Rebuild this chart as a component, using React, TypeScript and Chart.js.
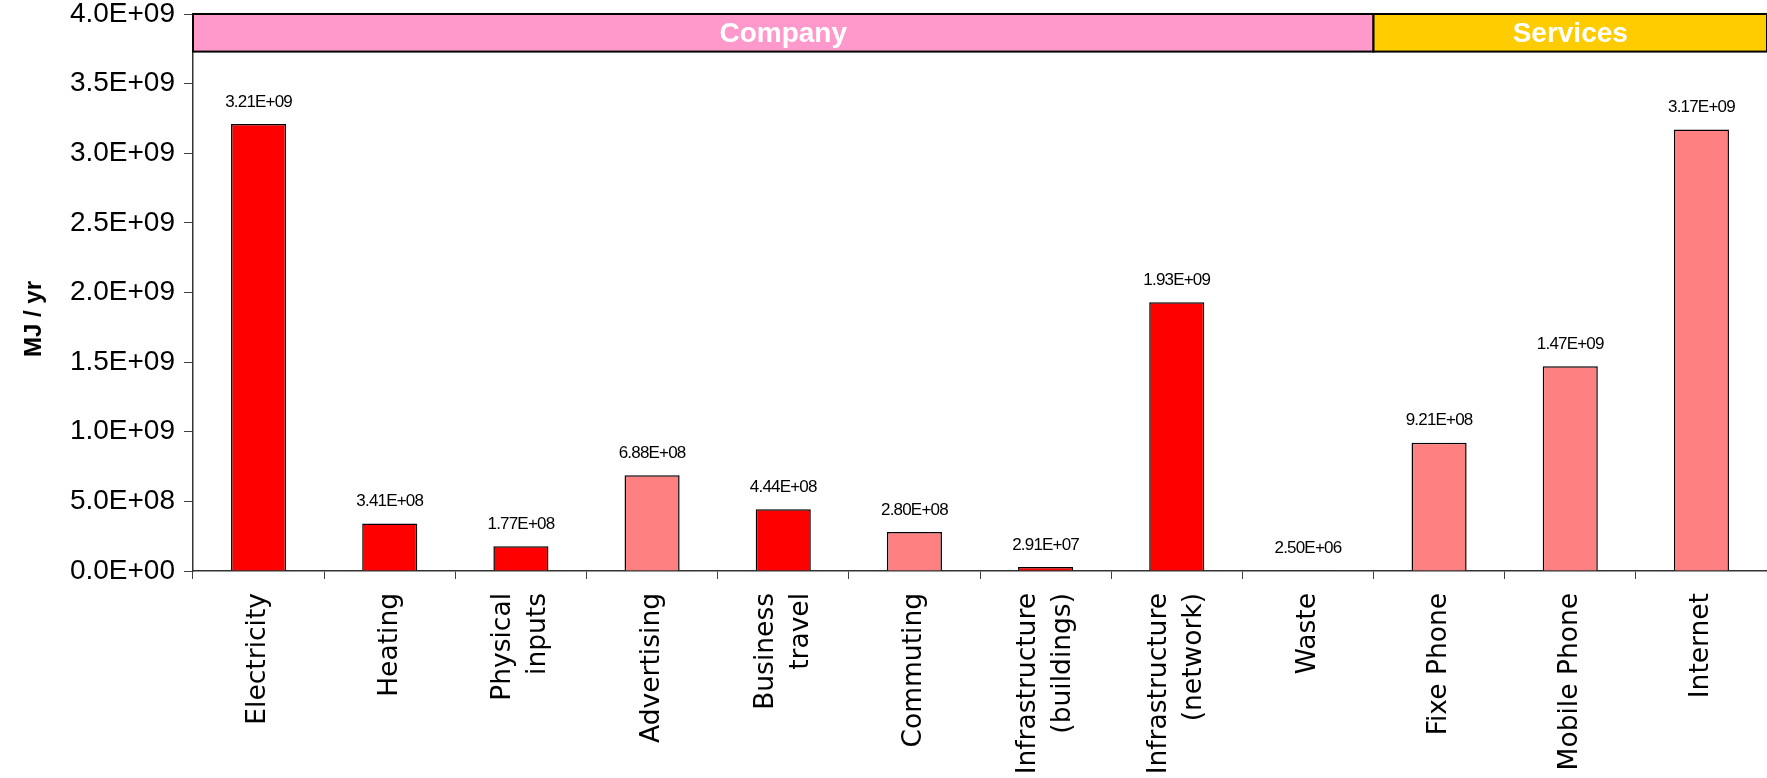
import { useEffect, useRef } from "react";
import { Chart, registerables } from "chart.js";

Chart.register(...registerables);

// ---- data ----
const categories: string[][] = [
  ["Electricity"],
  ["Heating"],
  ["Physical", "inputs"],
  ["Advertising"],
  ["Business", "travel"],
  ["Commuting"],
  ["Infrastructure", "(buildings)"],
  ["Infrastructure", "(network)"],
  ["Waste"],
  ["Fixe Phone"],
  ["Mobile Phone"],
  ["Internet"],
];

const values: number[] = [
  3.21e9, 3.41e8, 1.77e8, 6.88e8, 4.44e8, 2.8e8, 2.91e7, 1.93e9, 2.5e6, 9.21e8,
  1.47e9, 3.17e9,
];

const RED = "#FF0000";
const LIGHT = "#FF8080";
const barColors: string[] = [
  RED, RED, RED, LIGHT, RED, LIGHT, RED, RED, RED, LIGHT, LIGHT, LIGHT,
];

const groupNames: string[] = ["Company", "Services"];
const groupStart: number[] = [0, 9];
const groupEnd: number[] = [8, 11];
const groupColors: string[] = ["#FF99CC", "#FFCC00"];
const bandTop = 4.0e9;
const bandBottom = 3.73e9;

const yMin = 0;
const yMax = 4.0e9;
const yStep = 5.0e8;
const yTitle = "MJ / yr";

function fmtExp(v: number, d: number): string {
  const s = Number(v).toExponential(d);
  const [m, e] = s.split("e");
  const sign = e[0] === "-" ? "-" : "+";
  const n = Math.abs(parseInt(e, 10));
  return `${m}E${sign}${String(n).padStart(2, "0")}`;
}

// centre multi-line rotated category labels on their tick
const xLabelShiftPlugin = {
  id: "xLabelShift",
  beforeDraw(chart: any) {
    const xs = chart.scales.x;
    if (!xs || !xs.getLabelItems) return;
    const items = xs.getLabelItems(chart.chartArea);
    items.forEach((it: any) => {
      if (it._shifted) return;
      const n = Array.isArray(it.label) ? it.label.length : 1;
      if (n > 1 && it.options && it.options.translation) {
        it.options.translation[0] -= ((n - 1) * it.font.lineHeight) / 2;
      }
      it._shifted = true;
    });
  },
};

const overlayPlugin = {
  id: "overlay",
  afterDatasetsDraw(chart: any) {
    const { ctx, chartArea } = chart;
    const x = chart.scales.x;
    const y = chart.scales.y;
    ctx.save();

    // data labels
    ctx.font = '17px "Liberation Sans", Arial, sans-serif';
    try {
      (ctx as any).letterSpacing = "-0.8px";
    } catch (e) {}
    ctx.fillStyle = "#000";
    ctx.textAlign = "center";
    ctx.textBaseline = "middle";
    values.forEach((v, i) => {
      ctx.fillText(fmtExp(v, 2), x.getPixelForValue(i), y.getPixelForValue(v) - 22);
    });
    try {
      (ctx as any).letterSpacing = "0px";
    } catch (e) {}

    // group bands
    const half = (x.getPixelForValue(1) - x.getPixelForValue(0)) / 2;
    const top = y.getPixelForValue(bandTop);
    const bot = y.getPixelForValue(bandBottom);
    groupNames.forEach((name, g) => {
      const left = Math.max(chartArea.left, x.getPixelForValue(groupStart[g]) - half);
      const right = x.getPixelForValue(groupEnd[g]) + half;
      ctx.fillStyle = groupColors[g];
      ctx.fillRect(left, top, right - left, bot - top);
      ctx.strokeStyle = "#000";
      ctx.lineWidth = 2;
      ctx.strokeRect(left, top, right - left, bot - top);
      ctx.fillStyle = "#FFFFFF";
      ctx.font = 'bold 28px "Liberation Sans", Arial, sans-serif';
      ctx.textAlign = "center";
      ctx.textBaseline = "middle";
      const cx = (left + Math.min(right, chart.width)) / 2;
      ctx.fillText(name, cx, (top + bot) / 2 + 1);
    });

    // y axis title
    ctx.translate(34, 319);
    ctx.rotate(-Math.PI / 2);
    ctx.fillStyle = "#000";
    ctx.font = 'bold 24px "Liberation Sans", Arial, sans-serif';
    ctx.textAlign = "center";
    ctx.textBaseline = "middle";
    ctx.fillText(yTitle, 0, 0);

    ctx.restore();
  },
};

export default function App() {
  const ref = useRef<HTMLCanvasElement | null>(null);

  useEffect(() => {
    if (!ref.current) return;
    const chart = new Chart(ref.current, {
      type: "bar",
      data: {
        labels: categories as any,
        datasets: [
          {
            data: values,
            backgroundColor: barColors,
            borderColor: "#000",
            borderWidth: 1.5,
            barPercentage: 0.42,
            categoryPercentage: 1,
          },
        ],
      },
      options: {
        animation: false,
        responsive: false,
        devicePixelRatio: 1,
        layout: { padding: 0 },
        plugins: {
          legend: { display: false },
          tooltip: { enabled: false },
          title: { display: false },
        },
        scales: {
          x: {
            offset: true,
            grid: {
              drawOnChartArea: false,
              drawTicks: true,
              tickLength: 8,
              color: "#404040",
              offset: true,
            },
            border: { color: "#333", width: 1.5 },
            ticks: {
              minRotation: 90,
              maxRotation: 90,
              autoSkip: false,
              padding: 14,
              color: "#000",
              font: { family: '"DejaVu Sans", sans-serif', size: 26.5, lineHeight: 1.32 },
            },
            afterFit: (s: any) => {
              s.height = 207;
            },
          },
          y: {
            min: yMin,
            max: yMax,
            ticks: {
              stepSize: yStep,
              padding: 9,
              color: "#000",
              font: { family: '"Liberation Sans", Arial, sans-serif', size: 28 },
              callback: (v: any) => fmtExp(Number(v), 1),
            },
            grid: {
              drawOnChartArea: false,
              drawTicks: true,
              tickLength: 9,
              color: "#404040",
            },
            border: { color: "#333", width: 1.5 },
            afterFit: (s: any) => {
              s.width = 193;
              s.paddingTop = 14;
              s.paddingBottom = 0;
            },
          },
        },
      },
      plugins: [xLabelShiftPlugin, overlayPlugin],
    } as any);
    return () => chart.destroy();
  }, []);

  return (
    <div
      style={{
        position: "fixed",
        left: 0,
        top: 0,
        width: 1767,
        height: 778,
        overflow: "hidden",
        background: "#fff",
      }}
    >
      <canvas ref={ref} width={1767} height={778} style={{ display: "block" }} />
    </div>
  );
}
